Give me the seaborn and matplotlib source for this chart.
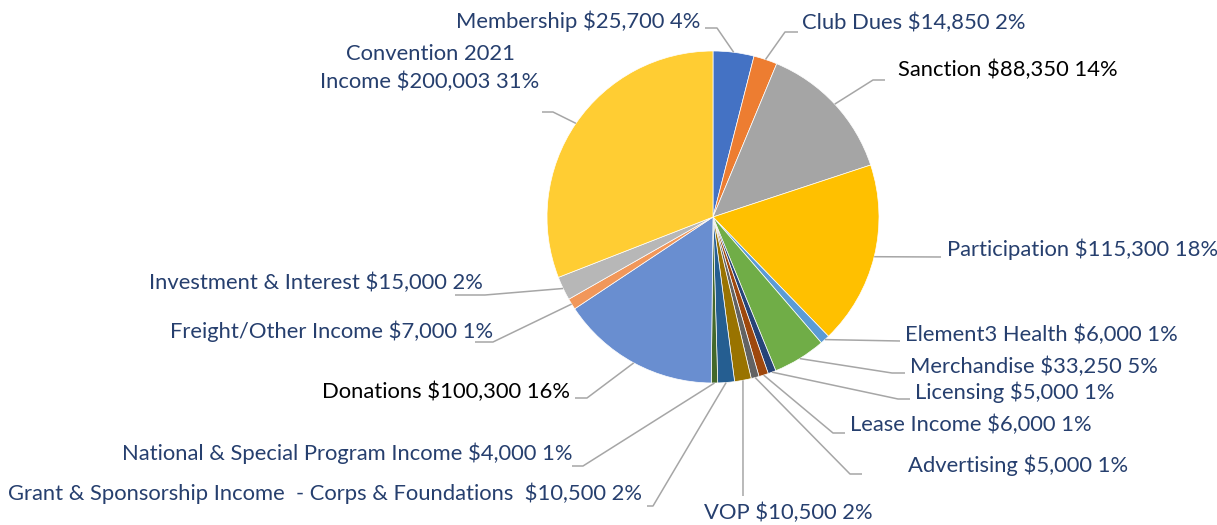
import numpy as np
import matplotlib
matplotlib.use("Agg")
import matplotlib.pyplot as plt
import seaborn as sns

# Datos del gráfico (ingresos por categoría)
categories = [
    "Membership", "Club Dues", "Sanction", "Participation", "Element3 Health",
    "Merchandise", "Licensing", "Lease Income", "Advertising", "VOP",
    "Grant & Sponsorship Income  - Corps & Foundations ",
    "National & Special Program Income", "Donations", "Freight/Other Income",
    "Investment & Interest", "Convention 2021\nIncome",
]
amounts = [25700, 14850, 88350, 115300, 6000, 33250, 5000, 6000, 5000, 10500,
           10500, 4000, 100300, 7000, 15000, 200003]
percent_labels = ["4%", "2%", "14%", "18%", "1%", "5%", "1%", "1%", "1%", "2%",
                  "2%", "1%", "16%", "1%", "2%", "31%"]

slice_colors = ["#4472C4", "#ED7D31", "#A5A5A5", "#FFC000", "#5B9BD5", "#70AD47",
                "#264478", "#9E480E", "#636363", "#997300", "#255E91", "#43682B",
                "#698ED0", "#F1975A", "#B7B7B7", "#FFCD33"]

# Posición de las etiquetas (px): texto x, texto y, alineación, extremo de la guía, codo de la guía
label_layout = [
    (700, 21, "right", (705, 28), (717, 28)),
    (802, 23, "left", (798, 32), (785, 32)),
    (898, 70, "left", (885, 80), (873, 80)),
    (947, 249, "left", (941, 257), None),
    (905, 335, "left", (900, 341), None),
    (910, 367, "left", (905, 373), (892, 373)),
    (915, 392, "left", (910, 399), (898, 399)),
    (850, 425, "left", (845, 433), (833, 433)),
    (908, 465, "left", (862, 474), (850, 474)),
    (788, 513, "center", (743, 496), None),
    (642, 493, "right", (647, 506), (653, 506)),
    (572, 453, "right", (572, 466), (583, 466)),
    (570, 392, "right", (575, 398), (587, 398)),
    (493, 331, "right", (475, 342), (493, 342)),
    (483, 283, "right", (455, 295), (485, 295)),
    (430, 68, "center", (542, 112), (553, 112)),
]
black_labels = {"Sanction", "Donations"}

sns.set_theme(style="white")
plt.rcParams["font.family"] = ["Lato", "DejaVu Sans"]

W, H = 1217, 525
fig = plt.figure(figsize=(W / 100, H / 100), dpi=100)
ax = fig.add_axes([0, 0, 1, 1])

cx, cy, r = 713, 217, 166
wedges, _ = ax.pie(amounts, colors=slice_colors, center=(cx, cy), radius=r,
                   startangle=-90, counterclock=True,
                   wedgeprops=dict(edgecolor="white", linewidth=0.5))

ax.set_xlim(0, W)
ax.set_ylim(H, 0)
ax.set_aspect("equal")
ax.axis("off")

for w, name, amt, pct, lay in zip(wedges, categories, amounts, percent_labels, label_layout):
    tx, ty, ha, end, elbow = lay
    mid = np.deg2rad((w.theta1 + w.theta2) / 2)
    ex, ey = cx + r * np.cos(mid), cy + r * np.sin(mid)
    if elbow is None:
        xs, ys = [ex, end[0]], [ey, end[1]]
    else:
        xs, ys = [ex, elbow[0], end[0]], [ey, elbow[1], end[1]]
    ax.plot(xs, ys, color="#A6A6A6", lw=1.1, solid_capstyle="butt", zorder=1)

    color = "black" if name in black_labels else "#263F6E"
    ax.text(tx, ty, f"{name} ${amt:,} {pct}", ha=ha, va="center",
            fontsize=15.8, color=color, linespacing=1.47)

fig.savefig("out.png", dpi=100, facecolor="white")
